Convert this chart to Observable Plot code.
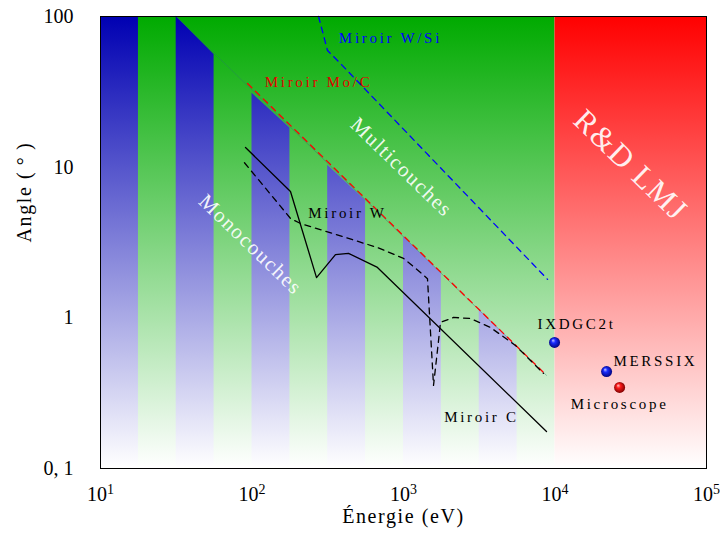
<!DOCTYPE html>
<html>
<head>
<meta charset="utf-8">
<script src="https://cdn.jsdelivr.net/npm/d3@7"></script>
<script src="https://cdn.jsdelivr.net/npm/@observablehq/plot@0.6"></script>
<style>
  body { margin: 0; background: #fff; }
  svg { font-family: "Liberation Serif", serif; }
</style>
</head>
<body>
<div id="chart"></div>
<script>
// ---- axes ----
const energyTicks = [10, 100, 1000, 10000, 100000];
const angleTicks = [0.1, 1, 10, 100];
const angleTickLabels = ["0, 1", "1", "10", "100"];

// ---- background zones (eV) ----
const monoMultiZone = [10, 10000];
const lmjZone = [10000, 100000];

// ---- blue stripes: lower / upper energy, top angle at each edge ----
const stripeLo = [10, 31.6, 100, 316, 1000, 3162];
const stripeHi = [17.8, 56.2, 178, 562, 1778, 5623];
const stripeTopLo = [100, 100, 31, 10.3, 3.45, 1.13];
const stripeTopHi = [100, 56, 18.2, 6.0, 1.97, 0.65];

// ---- mirror curves (energy eV, angle deg) ----
const wsiE = [275, 315, 384, 8930];
const wsiA = [100, 59.5, 48.7, 1.8];

const mocE = [93.4, 8790];
const mocA = [35.9, 0.415];

const boundaryE = [31.6, 8790];
const boundaryA = [100, 0.415];

const cE = [90.6, 179.5, 266.6, 355.6, 433.5, 673, 8790];
const cA = [13.5, 6.9, 1.85, 2.63, 2.68, 2.16, 0.176];

const wE = [89.2, 179.5, 209, 673, 1000, 1295, 1440, 1531, 1578, 1676, 1755, 2138, 2768, 3750, 5480, 8390];
const wA = [10.7, 4.57, 4.23, 2.93, 2.48, 2.0, 1.82, 0.61, 0.356, 0.61, 0.933, 1.006, 0.99, 0.863, 0.656, 0.428];

// ---- instruments ----
const instNames = ["IXDGC2t", "MERSSIX", "Microscope"];
const instE = [9930, 21900, 26700];
const instA = [0.687, 0.44, 0.345];
const instBall = ["url(#ballBlue)", "url(#ballBlue)", "url(#ballRed)"];
const instLabelE = [13870, 46000, 26700];
const instLabelA = [0.904, 0.514, 0.266];

// ---- mirror labels ----
const mirrorNames = ["Miroir W/Si", "Miroir Mo/C", "Miroir W", "Miroir C"];
const mirrorLabelE = [820, 275, 427, 3270];
const mirrorLabelA = [71.4, 36.5, 4.93, 0.218];
const mirrorColors = ["#0000ff", "#e00000", "#000", "#000"];

// ---- zone labels ----
const zoneNames = ["Multicouches", "Monocouches", "R&D LMJ"];
const zoneLabelE = [970, 97.8, 31500];
const zoneLabelA = [10, 3.07, 10.3];
const zoneSizes = [21, 21, 31];

const xTitle = "Énergie (eV)";
const yTitle = "Angle (\u2009°\u2009)";

const pts = (E, A) => E.map((e, i) => ({E: e, A: A[i]}));
const stripeRows = stripeLo.flatMap((lo, i) => [
  {id: i, E: lo, top: stripeTopLo[i]},
  {id: i, E: stripeHi[i], top: stripeTopHi[i]}
]);
const inst = instNames.map((n, i) => ({n, E: instE[i], A: instA[i], ball: instBall[i], lE: instLabelE[i], lA: instLabelA[i]}));
const mirrors = mirrorNames.map((n, i) => ({n, E: mirrorLabelE[i], A: mirrorLabelA[i], c: mirrorColors[i]}));
const zones = zoneNames.map((n, i) => ({n, E: zoneLabelE[i], A: zoneLabelA[i], s: zoneSizes[i]}));

const plot = Plot.plot({
  width: 720,
  height: 536,
  marginTop: 16,
  marginBottom: 68,
  marginLeft: 100,
  marginRight: 14,
  x: {type: "log", domain: [10, 100000]},
  y: {type: "log", domain: [0.1, 100]},
  style: {fontFamily: "Liberation Serif, serif", background: "#fff"},
  marks: [
    Plot.rect([monoMultiZone], {x1: d => d[0], x2: d => d[1], y1: 0.1, y2: 100, fill: "url(#gGreen)"}),
    Plot.rect([lmjZone], {x1: d => d[0], x2: d => d[1], y1: 0.1, y2: 100, fill: "url(#gRed)"}),
    Plot.areaY(stripeRows, {x: "E", y1: 0.1, y2: "top", z: "id", fill: "url(#gBlue)"}),
    Plot.line(pts(boundaryE, boundaryA), {x: "E", y: "A", stroke: "#2a7a6a", strokeWidth: 0.6, strokeOpacity: 0.7}),
    Plot.line(pts(wsiE, wsiA), {x: "E", y: "A", stroke: "#0000ff", strokeWidth: 1.3, strokeDasharray: "6,5"}),
    Plot.line(pts(mocE, mocA), {x: "E", y: "A", stroke: "#ff0000", strokeWidth: 1.3, strokeDasharray: "6,5"}),
    Plot.line(pts(cE, cA), {x: "E", y: "A", stroke: "#000", strokeWidth: 1.3}),
    Plot.line(pts(wE, wA), {x: "E", y: "A", stroke: "#000", strokeWidth: 1.3, strokeDasharray: "6,5"}),
    Plot.dot(inst, {x: "E", y: "A", r: 5.5, fill: "ball", stroke: null}),
    Plot.text(inst, {x: "lE", y: "lA", text: "n", fontSize: 15, fill: "#000"}),
    Plot.text(mirrors, {x: "E", y: "A", text: "n", fontSize: 15, fill: "c"}),
    Plot.text(zones, {x: "E", y: "A", text: "n", fontSize: d => d.s, rotate: 44, fill: "#fff", fillOpacity: 0.92}),
    Plot.frame({stroke: "#000", strokeWidth: 1}),
    Plot.axisX({ticks: energyTicks, tickSize: 0, tickPadding: 18, fontSize: 20,
      tickFormat: d => "10^" + Math.round(Math.log10(d)), label: null}),
    Plot.axisY({ticks: angleTicks, tickSize: 0, tickPadding: 27, fontSize: 20,
      tickFormat: d => angleTickLabels[angleTicks.indexOf(d)], label: null}),
    Plot.text([xTitle], {frameAnchor: "bottom", dy: 54, fontSize: 20}),
    Plot.text([yTitle], {frameAnchor: "left", dx: -76, rotate: -90, fontSize: 20})
  ]
});

// gradients
const svg = d3.select(plot);
const defs = svg.insert("defs", ":first-child");
function lin(id, c) {
  const g = defs.append("linearGradient").attr("id", id)
    .attr("gradientUnits", "userSpaceOnUse")
    .attr("x1", 0).attr("y1", 16).attr("x2", 0).attr("y2", 468);
  g.append("stop").attr("offset", 0).attr("stop-color", c);
  g.append("stop").attr("offset", 1).attr("stop-color", "#ffffff");
}
lin("gGreen", "rgb(0,170,0)");
lin("gBlue", "rgb(0,0,178)");
lin("gRed", "rgb(255,0,0)");
function ball(id, light, mid, dark) {
  const g = defs.append("radialGradient").attr("id", id)
    .attr("cx", 0.5).attr("cy", 0.5).attr("r", 0.55).attr("fx", 0.35).attr("fy", 0.3);
  g.append("stop").attr("offset", 0).attr("stop-color", light);
  g.append("stop").attr("offset", 0.35).attr("stop-color", mid);
  g.append("stop").attr("offset", 1).attr("stop-color", dark);
}
ball("ballBlue", "#c8c8ff", "#1a2cff", "#000070");
ball("ballRed", "#ffc8c8", "#ff1a1a", "#700000");

// superscript exponents on x tick labels
svg.selectAll('g[aria-label="x-axis tick label"] text').each(function() {
  const t = this.textContent;
  if (!t.includes("^")) return;
  const [b, e] = t.split("^");
  this.textContent = b;
  d3.select(this).append("tspan").attr("dy", "-0.45em").attr("font-size", "0.7em").text(e);
});

// letter spacing to mimic the wide Computer Modern look
svg.selectAll("text").each(function() {
  const t = this.textContent;
  let ls = null;
  if (mirrorNames.includes(t) || instNames.includes(t)) ls = 2.7;
  else if (zoneNames.includes(t)) ls = 1.5;
  else if (t === xTitle || t === yTitle) ls = 1.6;
  if (ls != null) {
    d3.select(this).style("letter-spacing", ls + "px");
  }
});

document.getElementById("chart").appendChild(plot);
</script>
</body>
</html>
